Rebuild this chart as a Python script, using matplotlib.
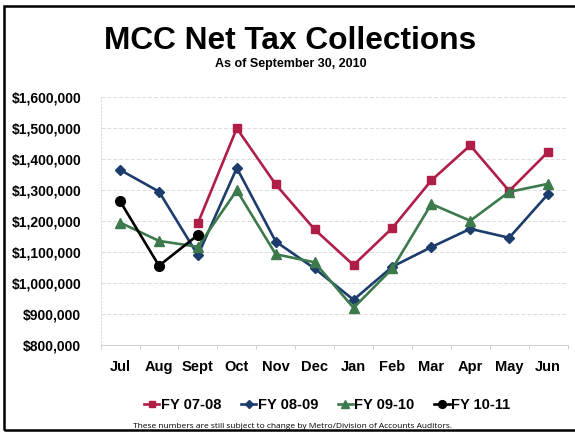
import numpy as np
import matplotlib
matplotlib.use('Agg')
import matplotlib.pyplot as plt
from matplotlib.patches import Rectangle

months = ['Jul', 'Aug', 'Sept', 'Oct', 'Nov', 'Dec', 'Jan', 'Feb', 'Mar', 'Apr', 'May', 'Jun']
nan = np.nan

fy_07_08 = [nan, nan, 1193000, 1499000, 1318000, 1173000, 1058000, 1178000, 1331000, 1444000, 1297000, 1423000]
fy_08_09 = [1365000, 1295000, 1090000, 1371000, 1134000, 1047000, 946000, 1053000, 1116000, 1175000, 1146000, 1287000]
fy_09_10 = [1195000, 1136000, 1117000, 1299000, 1093000, 1067000, 920000, 1047000, 1255000, 1201000, 1294000, 1320000]
fy_10_11 = [1264000, 1056000, 1155000, nan, nan, nan, nan, nan, nan, nan, nan, nan]

y_ticks = [800000, 900000, 1000000, 1100000, 1200000, 1300000, 1400000, 1500000, 1600000]

plt.rcParams['font.family'] = ['Liberation Sans', 'DejaVu Sans']

fig = plt.figure(figsize=(5.75, 4.33), dpi=100)
ax = fig.add_axes([0.175, 0.203, 0.812, 0.573])

x = np.arange(len(months))
series = [
    (fy_07_08, 'FY 07-08', '#B01E48', 's', 5.5),
    (fy_08_09, 'FY 08-09', '#1C3C6C', 'D', 5),
    (fy_09_10, 'FY 09-10', '#3C7A4C', '^', 6.5),
    (fy_10_11, 'FY 10-11', '#000000', 'o', 7),
]
for vals, name, col, mk, ms in series:
    ax.plot(x, vals, color=col, marker=mk, markersize=ms, linewidth=1.9,
            label=name, markeredgecolor=col)

ax.set_xlim(-0.5, 11.5)
ax.set_ylim(800000, 1600000)
ax.set_yticks(y_ticks)
ax.set_yticklabels(['${:,}'.format(v) for v in y_ticks], fontsize=10, fontweight='bold')
ax.set_xticks(x)
ax.set_xticklabels(months, fontsize=10.5, fontweight='bold')
ax.tick_params(axis='y', length=0, pad=14)
ax.tick_params(axis='x', length=0, pad=11)
ax.set_xticks(np.arange(-0.5, 12, 1), minor=True)
ax.tick_params(axis='x', which='minor', length=3, color='#c8c8c8')
ax.grid(axis='y', color='#dcdcdc', linewidth=0.7, linestyle=(0, (4, 2)))
ax.set_axisbelow(True)
for s in ['top', 'right']:
    ax.spines[s].set_visible(False)
ax.spines['left'].set_color('#dcdcdc')
ax.spines['left'].set_linestyle((0, (1, 2)))
ax.spines['bottom'].set_color('#cfcfcf')
ax.spines['bottom'].set_linewidth(0.7)

fig.text(0.505, 0.905, 'MCC Net Tax Collections', ha='center', va='center',
         fontsize=22.8, fontweight='bold')
fig.text(0.505, 0.852, 'As of September 30, 2010', ha='center', va='center',
         fontsize=9, fontweight='bold')

fig.legend(loc='center', bbox_to_anchor=(0.569, 0.064), ncol=4, frameon=False,
           prop={'size': 10.5, 'weight': 'bold'}, handlelength=1.05,
           handletextpad=0.1, columnspacing=1.35, markerscale=0.8)

fig.text(0.232, 0.008, 'These numbers are still subject to change by Metro/Division of Accounts Auditors.',
         ha='left', va='bottom', fontsize=6.0, family=['Open Sans', 'DejaVu Sans'])

fig.patches.append(Rectangle((0.007, 0.007), 1.1, 0.98, transform=fig.transFigure,
                             fill=False, edgecolor='black', linewidth=1.8))

fig.savefig('out.png', dpi=100)
